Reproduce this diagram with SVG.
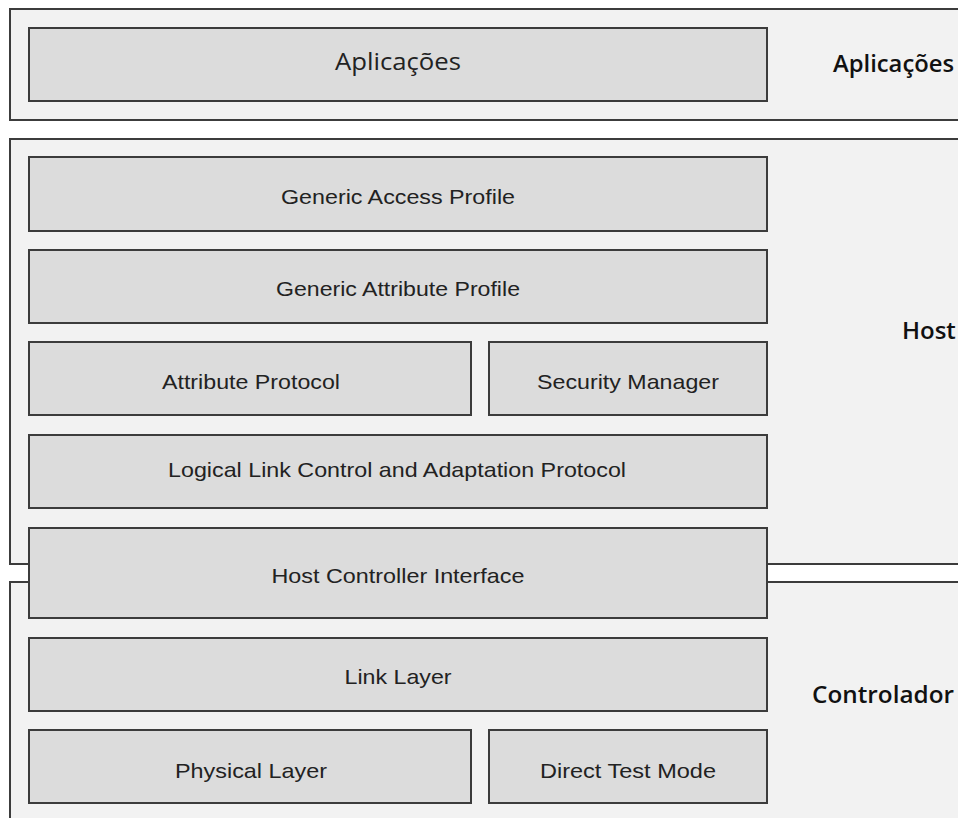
<svg xmlns="http://www.w3.org/2000/svg" width="958" height="818" viewBox="0 0 958 818">
<style>
.outer{fill:#f2f2f2;stroke:#3c3c3c;stroke-width:2}
.box{fill:#dcdcdc;stroke:#3c3c3c;stroke-width:2}
.t{font-family:"Liberation Sans",Arial,sans-serif;font-size:21px;fill:#222;text-anchor:middle;dominant-baseline:central}
.lbl{font-family:"Open Sans","Noto Sans",sans-serif;font-size:24px;font-weight:600;fill:#111;dominant-baseline:central}
.app{font-family:"Open Sans","Noto Sans",sans-serif;font-size:24px;fill:#222;text-anchor:middle;dominant-baseline:central}
</style>
<rect width="958" height="818" fill="#ffffff"/>
<g id="layer-aplicacoes">
<rect class="outer" x="10" y="9" width="960" height="111"/>
<text class="lbl" x="833" y="62" textLength="121" lengthAdjust="spacingAndGlyphs">Aplicações</text>
</g>
<g id="layer-host">
<rect class="outer" x="10" y="139" width="960" height="425"/>
<text class="lbl" x="902" y="329">Host</text>
</g>
<g id="layer-controlador">
<rect class="outer" x="10" y="582" width="960" height="250"/>
<text class="lbl" x="812" y="693" textLength="142" lengthAdjust="spacingAndGlyphs">Controlador</text>
</g>
<g id="aplicacoes">
<rect class="box" x="29" y="28" width="738" height="73"/>
<text class="app" x="398" y="60" textLength="126" lengthAdjust="spacingAndGlyphs">Aplicações</text>
</g>
<g id="gap">
<rect class="box" x="29" y="157" width="738" height="74"/>
<text class="t" x="398" y="196" textLength="234" lengthAdjust="spacingAndGlyphs">Generic Access Profile</text>
</g>
<g id="gatt">
<rect class="box" x="29" y="250" width="738" height="73"/>
<text class="t" x="398" y="288" textLength="244" lengthAdjust="spacingAndGlyphs">Generic Attribute Profile</text>
</g>
<g id="att">
<rect class="box" x="29" y="342" width="442" height="73"/>
<text class="t" x="251" y="381" textLength="178" lengthAdjust="spacingAndGlyphs">Attribute Protocol</text>
</g>
<g id="sm">
<rect class="box" x="489" y="342" width="278" height="73"/>
<text class="t" x="628" y="381" textLength="182" lengthAdjust="spacingAndGlyphs">Security Manager</text>
</g>
<g id="l2cap">
<rect class="box" x="29" y="435" width="738" height="73"/>
<text class="t" x="397" y="469" textLength="458" lengthAdjust="spacingAndGlyphs">Logical Link Control and Adaptation Protocol</text>
</g>
<g id="hci">
<rect class="box" x="29" y="528" width="738" height="90"/>
<text class="t" x="398" y="575" textLength="253" lengthAdjust="spacingAndGlyphs">Host Controller Interface</text>
</g>
<g id="ll">
<rect class="box" x="29" y="638" width="738" height="73"/>
<text class="t" x="398" y="676" textLength="107" lengthAdjust="spacingAndGlyphs">Link Layer</text>
</g>
<g id="phy">
<rect class="box" x="29" y="730" width="442" height="73"/>
<text class="t" x="251" y="770" textLength="152" lengthAdjust="spacingAndGlyphs">Physical Layer</text>
</g>
<g id="dtm">
<rect class="box" x="489" y="730" width="278" height="73"/>
<text class="t" x="628" y="770" textLength="176" lengthAdjust="spacingAndGlyphs">Direct Test Mode</text>
</g>
<g id="connectors"></g>
</svg>
